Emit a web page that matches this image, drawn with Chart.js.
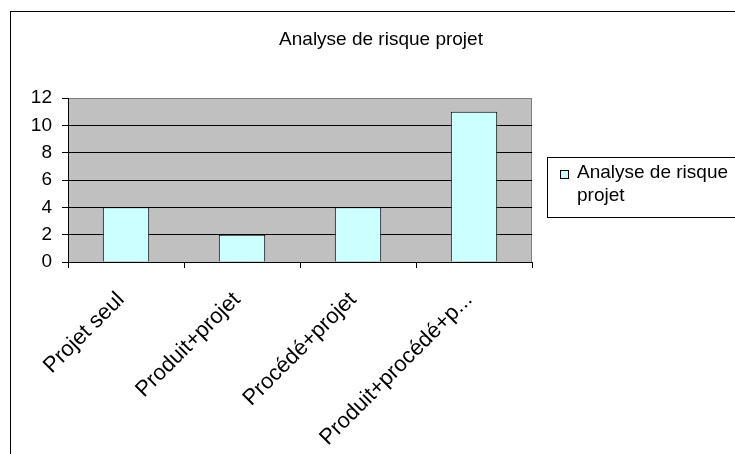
<!DOCTYPE html>
<html>
<head>
<meta charset="utf-8">
<script src="https://cdn.jsdelivr.net/npm/chart.js@4"></script>
<style>
  html, body { margin: 0; padding: 0; background: #fff; }
  canvas { display: block; }
</style>
</head>
<body>
<canvas id="riskChart" width="735" height="454"></canvas>
<script>
const chartTitle = 'Analyse de risque projet';
const categories = ['Projet seul', 'Produit+projet', 'Procédé+projet', 'Produit+procédé+p...'];
const seriesLabel = 'Analyse de risque projet';
const seriesValues = [4, 2, 4, 11];
const yMin = 0;
const yMax = 12;
const yStep = 2;

const FONT = '"Liberation Sans", Arial, sans-serif';

// frame, grey plot area, title and the wrapped legend box (Excel look)
const excelDecor = {
    id: 'excelDecor',
    beforeDraw(chart) {
        const ctx = chart.ctx;
        const a = chart.chartArea;
        ctx.save();
        ctx.fillStyle = '#ffffff';
        ctx.fillRect(0, 0, chart.width, chart.height);
        ctx.strokeStyle = '#000000';
        ctx.lineWidth = 1;
        ctx.strokeRect(10.5, 11.5, 800, 500);
        ctx.fillStyle = '#c0c0c0';
        ctx.fillRect(a.left, a.top, a.right - a.left, a.bottom - a.top);
        ctx.strokeStyle = '#808080';
        ctx.beginPath();
        ctx.moveTo(a.left, a.top + 0.5);
        ctx.lineTo(a.right - 0.5, a.top + 0.5);
        ctx.lineTo(a.right - 0.5, a.bottom);
        ctx.stroke();

        ctx.fillStyle = '#000000';
        ctx.font = '19px ' + FONT;
        ctx.textAlign = 'center';
        ctx.textBaseline = 'alphabetic';
        ctx.fillText(chartTitle, 381, 45);
        ctx.restore();
    },
    afterDraw(chart) {
        const ctx = chart.ctx;
        const ds = chart.data.datasets[0];
        ctx.save();
        ctx.strokeStyle = '#000000';
        ctx.lineWidth = 1;
        ctx.fillStyle = '#ffffff';
        ctx.fillRect(548, 158, 200, 59);
        ctx.strokeRect(547.5, 157.5, 200, 60);
        ctx.fillStyle = ds.backgroundColor;
        ctx.fillRect(560, 170, 8, 8);
        ctx.strokeRect(560.5, 170.5, 8, 8);

        ctx.font = '19px ' + FONT;
        ctx.fillStyle = '#000000';
        ctx.textAlign = 'left';
        const words = ds.label.split(' ');
        const lines = [];
        let line = '';
        words.forEach(w => {
            const test = line ? line + ' ' + w : w;
            if (line && ctx.measureText(test).width > 158) {
                lines.push(line);
                line = w;
            } else {
                line = test;
            }
        });
        lines.push(line);
        lines.forEach((l, i) => ctx.fillText(l, 577, 178 + i * 23));
        ctx.restore();
    }
};

new Chart(document.getElementById('riskChart'), {
    type: 'bar',
    data: {
        labels: categories,
        datasets: [{
            label: seriesLabel,
            data: seriesValues,
            backgroundColor: '#ccffff',
            borderColor: '#000000',
            borderWidth: 1,
            categoryPercentage: 1,
            barPercentage: 0.4
        }]
    },
    options: {
        responsive: false,
        animation: false,
        layout: {
            padding: { left: 0, top: 98, right: 203, bottom: 0 }
        },
        plugins: {
            legend: { display: false },
            title: { display: false },
            tooltip: { enabled: false }
        },
        scales: {
            x: {
                offset: true,
                afterFit: s => { s.height = 192; },
                grid: {
                    offset: true,
                    drawOnChartArea: false,
                    drawTicks: true,
                    tickLength: 6,
                    tickColor: '#000000'
                },
                border: { display: true, color: '#000000' },
                ticks: {
                    minRotation: 45,
                    maxRotation: 45,
                    autoSkip: false,
                    padding: 19,
                    labelOffset: -5,
                    color: '#000000',
                    font: { family: FONT, size: 22 }
                }
            },
            y: {
                min: yMin,
                max: yMax,
                afterFit: s => { s.width = 68; },
                grid: {
                    color: c => (c.tick && c.tick.value === yMax) ? '#808080' : '#000000',
                    tickColor: '#000000',
                    tickLength: 6
                },
                border: { display: true, color: '#000000' },
                ticks: {
                    stepSize: yStep,
                    padding: 10,
                    color: '#000000',
                    font: { family: FONT, size: 19 }
                }
            }
        }
    },
    plugins: [excelDecor]
});
</script>
</body>
</html>
